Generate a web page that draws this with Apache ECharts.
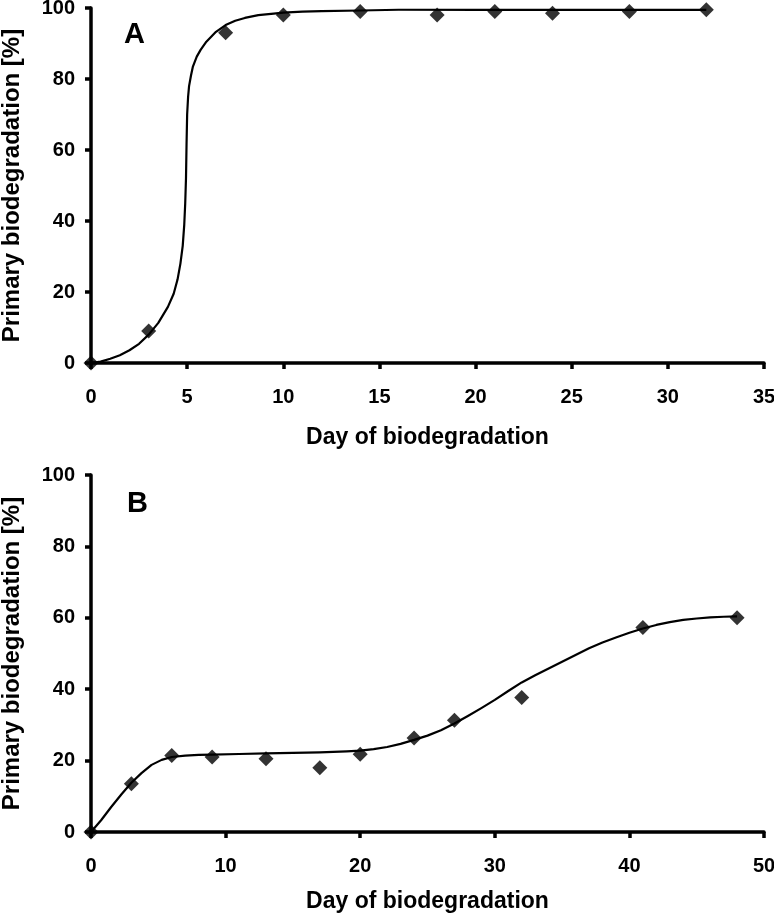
<!DOCTYPE html>
<html>
<head>
<meta charset="utf-8">
<script src="https://cdn.jsdelivr.net/npm/echarts@6/dist/echarts.min.js"></script>
<style>
html,body{margin:0;padding:0;background:#fff;}
#chart{width:774px;height:913px;}
</style>
</head>
<body>
<div id="chart"></div>
<script>
// Panel A – measured points (day, %)
const daysA = [0, 3, 7, 10, 14, 18, 21, 24, 28, 32];
const valuesA = [0, 9, 93, 98, 99, 98, 99, 98.5, 99, 99.5];
// Panel A – fitted curve
const curveDaysA = [0, 0.5, 1, 1.5, 2, 2.5, 3, 3.5, 4, 4.3, 4.5, 4.65, 4.77, 4.85, 4.9, 4.94, 4.97, 5.0, 5.05, 5.1, 5.2, 5.3, 5.5, 5.7, 6, 6.5, 7, 7.5, 8, 8.7, 9.5, 10, 11, 12, 14, 16, 20, 25, 32];
const curveValsA = [0, 0.4, 1.2, 2.2, 3.6, 5.4, 8, 11.3, 15.8, 19.5, 23.5, 28, 33, 39, 45, 52, 62, 70, 75, 78, 81, 83.5, 86.3, 88.2, 90.5, 93.3, 95.2, 96.4, 97.2, 98, 98.4, 98.7, 99, 99.1, 99.3, 99.5, 99.5, 99.5, 99.5];

// Panel B – measured points
const daysB = [0, 3, 6, 9, 13, 17, 20, 24, 27, 32, 41, 48];
const valuesB = [0, 13.5, 21.4, 21, 20.5, 18, 21.8, 26.3, 31.3, 37.7, 57.3, 60];
// Panel B – fitted curve
const curveDaysB = [0, 0.75, 1.5, 2.25, 3, 3.75, 4.5, 5.25, 6, 7, 8, 9, 11, 13, 15, 17, 19, 20, 21, 22, 23, 24, 25, 26, 27, 28, 29, 30, 31, 32, 33, 34, 35, 36, 37, 38, 39, 40, 41, 42, 43, 44, 45, 46, 47, 48];
const curveValsB = [0, 3.3, 7, 10.5, 13.8, 16.5, 18.8, 20.2, 21, 21.4, 21.6, 21.7, 21.85, 22, 22.15, 22.3, 22.6, 22.8, 23.2, 23.8, 24.7, 25.8, 27, 28.5, 30.4, 32.5, 34.7, 37, 39.5, 41.9, 43.9, 45.8, 47.7, 49.6, 51.5, 53.1, 54.5, 55.8, 57, 58, 58.8, 59.4, 59.8, 60.1, 60.3, 60.4];

const xTicksA = {min: 0, max: 35, interval: 5};
const xTicksB = {min: 0, max: 50, interval: 10};
const yTicks = {min: 0, max: 100, interval: 20};
const panelLabels = ['A', 'B'];
const xName = 'Day of biodegradation';
const yName = 'Primary biodegradation [%]';

const zip = (a, b) => a.map((v, i) => [v, b[i]]);

const FONT = '"Liberation Sans", Arial, sans-serif';
const axisLineStyle = {show: true, lineStyle: {color: '#000', width: 3.5, cap: 'round'}};
const tickStyle = {show: true, inside: false, length: 6, lineStyle: {color: '#000', width: 3.5}};
const labelStyle = {color: '#000', fontFamily: FONT, fontWeight: 'bold', fontSize: 20};

function xAxis(idx, t, nameGap) {
  return {
    type: 'value', gridIndex: idx, min: t.min, max: t.max, interval: t.interval,
    axisLine: axisLineStyle, axisTick: tickStyle, splitLine: {show: false},
    axisLabel: Object.assign({margin: 24}, labelStyle),
    name: xName, nameLocation: 'middle', nameGap: nameGap,
    nameTextStyle: {color: '#000', fontFamily: FONT, fontWeight: 'bold', fontSize: 23}
  };
}
function yAxis(idx) {
  return {
    type: 'value', gridIndex: idx, min: yTicks.min, max: yTicks.max, interval: yTicks.interval,
    axisLine: axisLineStyle, axisTick: tickStyle, splitLine: {show: false},
    axisLabel: Object.assign({margin: 16}, labelStyle),
    name: yName, nameLocation: 'middle', nameGap: 67, nameRotate: 90,
    nameTextStyle: {color: '#000', fontFamily: FONT, fontWeight: 'bold', fontSize: 24}
  };
}

const chart = echarts.init(document.getElementById('chart'), null, {renderer: 'canvas'});
chart.setOption({
  animation: false,
  backgroundColor: '#fff',
  grid: [
    {left: 91, top: 8, width: 673, height: 355, outerBoundsMode: 'none', containLabel: false},
    {left: 91, top: 475, width: 673, height: 357, outerBoundsMode: 'none', containLabel: false}
  ],
  xAxis: [xAxis(0, xTicksA, 63), xAxis(1, xTicksB, 58)],
  yAxis: [yAxis(0), yAxis(1)],
  graphic: [
    {type: 'text', left: 124, top: 20, style: {text: panelLabels[0], fill: '#000', font: 'bold 29px ' + FONT}},
    {type: 'text', left: 127, top: 489, style: {text: panelLabels[1], fill: '#000', font: 'bold 29px ' + FONT}}
  ],
  series: [
    {type: 'line', xAxisIndex: 0, yAxisIndex: 0, data: zip(curveDaysA, curveValsA), showSymbol: false,
     smooth: false, lineStyle: {color: '#000', width: 2.2, join: 'round'}, clip: false, z: 2},
    {type: 'scatter', xAxisIndex: 0, yAxisIndex: 0, data: zip(daysA, valuesA), symbol: 'diamond', symbolSize: 15,
     itemStyle: {color: '#000'}, clip: false, z: 3},
    {type: 'line', xAxisIndex: 1, yAxisIndex: 1, data: zip(curveDaysB, curveValsB), showSymbol: false,
     smooth: false, lineStyle: {color: '#000', width: 2.2, join: 'round'}, clip: false, z: 2},
    {type: 'scatter', xAxisIndex: 1, yAxisIndex: 1, data: zip(daysB, valuesB), symbol: 'diamond', symbolSize: 15,
     itemStyle: {color: '#000'}, clip: false, z: 3}
  ]
});
</script>
</body>
</html>
